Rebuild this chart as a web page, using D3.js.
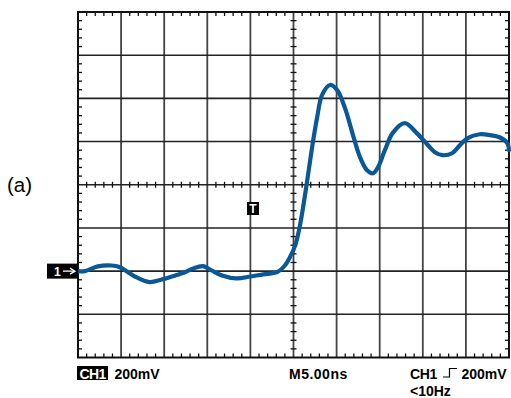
<!DOCTYPE html>
<html><head><meta charset="utf-8">
<script src="https://cdn.jsdelivr.net/npm/d3@7"></script>
<style>body{margin:0;background:#fff}svg{display:block}</style>
</head><body><svg id="c" width="511" height="398"></svg>
<script>
// time (ns, 5 ns/div, trigger at center) and CH1 voltage (mV, relative to ground marker)
const timeNs = [-25,-24.2,-22.7,-21.1,-20.2,-19.2,-18.4,-16.7,-15.3,-13.7,-12.6,-11.7,-10.5,-9.5,-8.3,-6.6,-5,-3.5,-1.9,-1,-0.4,0.2,0.75,1.33,1.68,2.26,2.73,3.31,4.23,5.05,5.97,6.9,7.71,8.53,9.22,9.8,10.6,11.5,12.9,14.3,15.6,16.4,17.3,18.4,19.3,20.2,21.6,22.8,23.9,24.8,25];
const voltMv = [0,0,22,26,19,-5,-25,-51,-39,-20,-5,11,23,3,-20,-34,-25,-15,-5,26,65,119,212,351,444,599,709,815,862,839,755,630,528,467,453,481,560,639,685,639,583,551,537,546,583,616,634,630,620,593,560];
const timeTicks = [-25,-20,-15,-10,-5,0,5,10,15,20,25];
const voltTicks = [-400,-200,0,200,400,600,800,1000,1200];
const labels = {side:"(a)", ch:"CH1", scale:"200mV", time:"M5.00ns", trig:"CH1", trigLevel:"200mV", bw:"<10Hz", marker:"1", trigMarker:"T"};

const svg = d3.select("#c");
const x = d3.scaleLinear().domain([-25,25]).range([78,509]);
const y = d3.scaleLinear().domain([-400,1200]).range([357.5,12]);
const X0=x(-25), X1=x(25), Y0=y(1200), Y1=y(-400), XC=x(0), YC=y(400);

const g = svg.append("g");
// grid
g.selectAll(".gv").data(timeTicks.slice(1,-1)).join("line")
  .attr("x1",d=>x(d)).attr("x2",d=>x(d)).attr("y1",Y0).attr("y2",Y1)
  .attr("stroke","#444").attr("stroke-width",1.8);
g.selectAll(".gh").data(voltTicks.slice(1,-1)).join("line")
  .attr("y1",d=>y(d)).attr("y2",d=>y(d)).attr("x1",X0).attr("x2",X1)
  .attr("stroke","#222").attr("stroke-width",1.6);
// minor ticks
const minorT = d3.range(-25,25.01,1).filter(d=>d%5!==0);
const minorV = d3.range(-400,1200.01,40).filter(d=>d%200!==0);
const tk = g.append("g").attr("stroke","#111").attr("stroke-width",1.3);
minorT.forEach(t=>{
  tk.append("line").attr("x1",x(t)).attr("x2",x(t)).attr("y1",Y0).attr("y2",Y0+4);
  tk.append("line").attr("x1",x(t)).attr("x2",x(t)).attr("y1",Y1).attr("y2",Y1-4);
  tk.append("line").attr("x1",x(t)).attr("x2",x(t)).attr("y1",YC-3).attr("y2",YC+3);
});
minorV.forEach(v=>{
  tk.append("line").attr("y1",y(v)).attr("y2",y(v)).attr("x1",X0).attr("x2",X0+4);
  tk.append("line").attr("y1",y(v)).attr("y2",y(v)).attr("x1",X1).attr("x2",X1-4);
  tk.append("line").attr("y1",y(v)).attr("y2",y(v)).attr("x1",XC-3).attr("x2",XC+3);
});
g.append("rect").attr("x",X0).attr("y",Y0).attr("width",X1-X0).attr("height",Y1-Y0)
  .attr("fill","none").attr("stroke","#111").attr("stroke-width",2);

// trace
const line = d3.line().x((d,i)=>x(timeNs[i])).y(d=>y(d)).curve(d3.curveCatmullRom.alpha(0.5));
svg.append("path").datum(voltMv).attr("d",line).attr("fill","none")
  .attr("stroke","#0a5896").attr("stroke-width",4.2).attr("stroke-linejoin","round").attr("stroke-linecap","round");

const F = "Liberation Sans, Arial, Helvetica, sans-serif";
// side label
svg.append("text").attr("x",7).attr("y",192).attr("font-family",F).attr("font-size",20.5).text(labels.side);
// ground marker
const gy = y(0);
svg.append("rect").attr("x",47).attr("y",gy-7.5).attr("width",31).attr("height",15).attr("fill","#000");
svg.append("text").attr("x",54).attr("y",gy+4.5).attr("fill","#fff").attr("font-family",F).attr("font-weight","bold").attr("font-size",12).text(labels.marker);
svg.append("line").attr("x1",63).attr("x2",74).attr("y1",gy).attr("y2",gy).attr("stroke","#fff").attr("stroke-width",1.3);
svg.append("path").attr("d",`M70,${gy-3}L75,${gy}L70,${gy+3}`).attr("fill","none").attr("stroke","#fff").attr("stroke-width",1.3);
// trigger marker
svg.append("rect").attr("x",247).attr("y",202).attr("width",12).attr("height",13).attr("fill","#000");
svg.append("text").attr("x",253).attr("y",213).attr("text-anchor","middle").attr("fill","#fff").attr("font-family",F).attr("font-weight","bold").attr("font-size",12).text(labels.trigMarker);

// bottom readouts
const FS = 14;
svg.append("rect").attr("x",77).attr("y",366).attr("width",31).attr("height",14).attr("fill","#000");
svg.append("text").attr("x",92.5).attr("y",378.5).attr("text-anchor","middle").attr("fill","#fff").attr("font-family",F).attr("font-weight","bold").attr("font-size",FS).attr("letter-spacing",-0.6).text(labels.ch);
svg.append("text").attr("x",114.5).attr("y",378.5).attr("font-family",F).attr("font-weight","bold").attr("font-size",FS).text(labels.scale);
svg.append("text").attr("x",289).attr("y",378.5).attr("font-family",F).attr("font-weight","bold").attr("font-size",FS).attr("letter-spacing",0.5).text(labels.time);
svg.append("text").attr("x",410).attr("y",378.5).attr("font-family",F).attr("font-weight","bold").attr("font-size",FS).attr("letter-spacing",-0.3).text(labels.trig);
svg.append("path").attr("d","M443,377H449.5V368.5H457").attr("fill","none").attr("stroke","#000").attr("stroke-width",1.2);
svg.append("text").attr("x",461.5).attr("y",378.5).attr("font-family",F).attr("font-weight","bold").attr("font-size",FS).text(labels.trigLevel);
svg.append("text").attr("x",410).attr("y",395.5).attr("font-family",F).attr("font-weight","bold").attr("font-size",FS).text(labels.bw);
</script></body></html>
